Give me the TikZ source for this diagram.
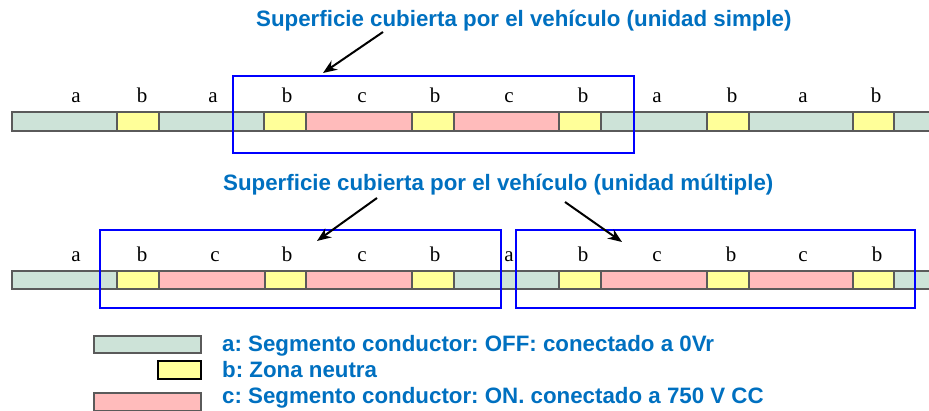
\documentclass[tikz,border=0pt]{standalone}
\usepackage{fontspec}
\setmainfont{Liberation Serif}
\newfontfamily\arialf{Liberation Sans}
\usetikzlibrary{arrows.meta}
\frenchspacing
\definecolor{segA}{HTML}{CDE3D8}
\definecolor{segB}{HTML}{FFFF99}
\definecolor{segC}{HTML}{FFBBBB}
\definecolor{segline}{HTML}{5A5A5A}
\definecolor{titleblue}{HTML}{0070C0}
\definecolor{boxblue}{HTML}{0000FF}
\tikzset{
  segbox/.style={draw=segline, line width=1.3pt},
  lettr/.style={anchor=base, inner sep=0pt, font=\fontsize{21}{23}\selectfont, text=black},
  titletext/.style={anchor=base west, inner sep=0pt, text=titleblue, font=\frenchspacing\arialf\bfseries\fontsize{22.3}{26}\selectfont},
  legtext/.style={anchor=base west, inner sep=0pt, text=titleblue, font=\frenchspacing\arialf\bfseries\fontsize{22.3}{26}\selectfont},
  vehbox/.style={draw=boxblue, line width=2.6pt},
  pointer/.style={draw=black, line width=2pt, -{Stealth[length=14pt,width=11pt]}}
}
\begin{document}
\begin{tikzpicture}[x=1pt,y=-1pt]
\useasboundingbox (0,0) rectangle (929,411);
% top strip
\foreach \xa/\xb/\c in {12/117/segA,117/159/segB,159/264/segA,264/306/segB,306/412/segC,412/454/segB,454/559/segC,559/601/segB,601/707/segA,707/749/segB,749/853/segA,853/894/segB,894/935/segA}
  \draw[segbox, fill=\c] (\xa,112) rectangle (\xb,131);
% bottom strip
\foreach \xa/\xb/\c in {12/117/segA,117/159/segB,159/265/segC,265/306/segB,306/412/segC,412/454/segB,454/559/segA,559/601/segB,601/707/segC,707/749/segB,749/853/segC,853/894/segB,894/935/segA}
  \draw[segbox, fill=\c] (\xa,271) rectangle (\xb,289);
% top labels
\foreach \x/\l [count=\i] in {76/a,142/b,213/a,287/b,362/c,435/b,509/c,583/b,657/a,732/b,803/a,876/b}
  \node[lettr] (tl\i) at (\x,103) {\l};
% bottom labels
\foreach \x/\l [count=\i] in {76/a,142/b,215/c,287/b,362/c,435/b,509/a,583/b,657/c,731/b,803/c,877/b}
  \node[lettr] (bl\i) at (\x,262) {\l};
% vehicle boxes
\draw[vehbox] (233,76) rectangle (634,153);
\draw[vehbox] (100,230) rectangle (501,308);
\draw[vehbox] (516,230) rectangle (915,308);
% titles
\node[titletext] (t1) at (256,27) {Superficie cubierta por el vehículo (unidad simple)};
\node[titletext] (t2) at (223,191) {Superficie cubierta por el vehículo (unidad múltiple)};
% arrows
\coordinate (a1s) at (383,32);
\coordinate (a1e) at (323,73);
\coordinate (a2s) at (377,198);
\coordinate (a2e) at (317,241);
\coordinate (a3s) at (565,202);
\coordinate (a3e) at (622,242);
\draw[pointer] (a1s) -- (a1e);
\draw[pointer] (a2s) -- (a2e);
\draw[pointer] (a3s) -- (a3e);
% legend
\draw[segbox, fill=segA] (94,336) rectangle (201,353);
\draw[segbox, fill=segB, draw=black] (158,361) rectangle (201,379);
\draw[segbox, fill=segC] (94,393) rectangle (201,410.3);
\node[legtext] (la) at (222,352) {a: Segmento conductor: OFF: conectado a 0Vr};
\node[legtext] (lb) at (222,378) {b: Zona neutra};
\node[legtext] (lc) at (222,403) {c: Segmento conductor: ON. conectado a 750 V CC};
\end{tikzpicture}
\end{document}
